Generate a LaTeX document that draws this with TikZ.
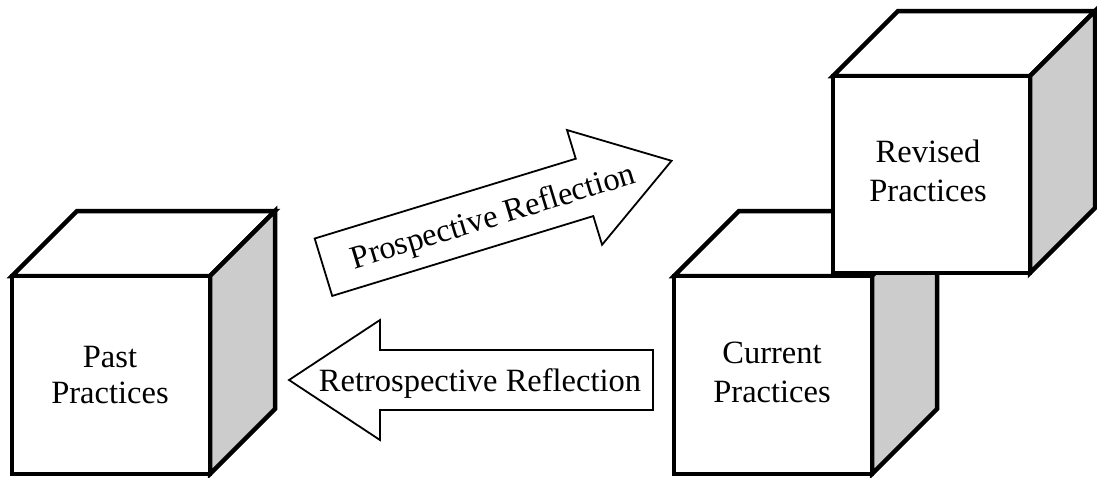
\documentclass[tikz,border=0pt]{standalone}
\usepackage{fontspec}
\setmainfont{Liberation Serif}
\definecolor{sidegray}{HTML}{CCCCCC}
\tikzset{
  cubeline/.style={line width=4.5pt, line join=miter, draw=black},
  arrowline/.style={line width=1.8pt, line join=miter, draw=black, fill=white},
  cubetext/.style={align=center, inner sep=0pt, font={\fontsize{32.5}{39}\selectfont}},
  arrowtext/.style={inner sep=0pt, anchor=base, font={\fontsize{32.5}{39}\selectfont}}
}
\newcommand{\mycube}[4]{%
  \draw[cubeline, fill=white] (#1,#2) -- ({#1+65},{#2-65}) -- ({#3+65},{#2-65}) -- (#3,#2) -- cycle;
  \draw[cubeline, fill=sidegray] (#3,#2) -- ({#3+65},{#2-65}) -- ({#3+65},{#4-65}) -- (#3,#4) -- cycle;
  \draw[cubeline, fill=white] (#1,#2) rectangle (#3,#4);
}
\newcommand{\myblockarrow}{%
  \path[arrowline] (-182,-30) -- (91,-30) -- (91,-60) -- (182,0) -- (91,60) -- (91,30) -- (-182,30) -- cycle;
}
\begin{document}
\begin{tikzpicture}[x=1pt, y=-1pt]
  \useasboundingbox (0,0) rectangle (1097,477);
  % cubes
  \mycube{12}{276}{210}{474}
  \node[cubetext, font={\fontsize{32.5}{36.5}\selectfont}] (past) at (110,375) {Past\\Practices};
  \mycube{674}{276}{872}{474}
  \node[cubetext] (current) at (772,372) {Current\\Practices};
  \mycube{833}{76}{1030}{273}
  \node[cubetext] (revised) at (928,171) {Revised\\Practices};
  % prospective arrow
  \begin{scope}[shift={(497.5,214)}, rotate=17]
    \myblockarrow
    \node[arrowtext, transform shape] (prosp) at (-5,11) {Prospective Reflection};
  \end{scope}
  % retrospective arrow
  \begin{scope}[shift={(471,380)}, rotate=180]
    \myblockarrow
  \end{scope}
  \node[arrowtext] (retro) at (480,391) {Retrospective Reflection};
\end{tikzpicture}
\end{document}
